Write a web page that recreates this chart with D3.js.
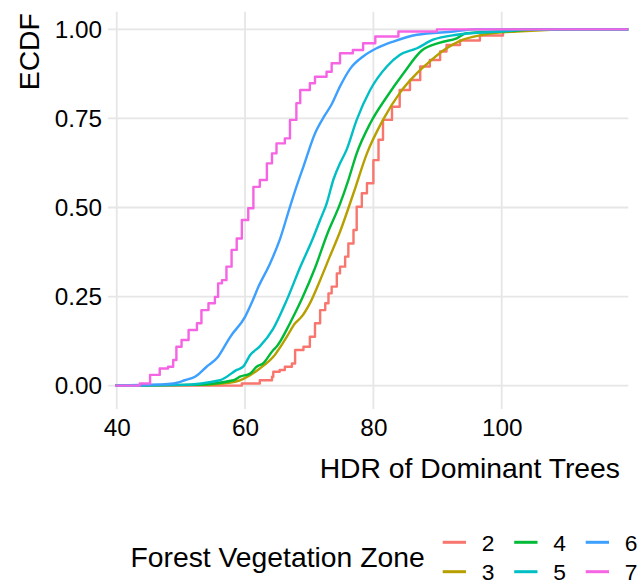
<!DOCTYPE html>
<html>
<head>
<meta charset="utf-8">
<script src="https://cdn.jsdelivr.net/npm/d3@7"></script>
<style>
  html, body { margin: 0; padding: 0; background: #fff; }
  svg { display: block; font-family: "Liberation Sans", Arial, sans-serif; }
</style>
</head>
<body>
<svg id="chart" width="637" height="588"></svg>
<script>
// ECDF of HDR by forest vegetation zone: [HDR, ECDF]
const zones = ["2", "3", "4", "5", "6", "7"];

const zone2 = [[59.5,0.006],[62.3,0.015],[64.2,0.025],[64.4,0.039],[65.4,0.044],[66.2,0.053],[67.3,0.062],
  [67.8,0.100],[69.1,0.109],[70.1,0.137],[70.9,0.175],[71.7,0.212],[72.5,0.231],[73.0,0.259],[73.5,0.278],
  [74.3,0.315],[74.8,0.334],[75.6,0.362],[76.1,0.399],[76.9,0.437],[77.4,0.502],[78.2,0.540],[79.0,0.568],
  [80.0,0.633],[80.8,0.690],[81.5,0.746],[82.9,0.783],[84.1,0.830],[85.7,0.858],[87.3,0.896],[88.8,0.914],
  [90.4,0.938],[91.4,0.956],[93.5,0.969],[96.6,0.983],[100.2,1.0]];
const zone3 = [[53.0,0.002],[57.5,0.008],[59.2,0.015],[62.3,0.048],[64.4,0.081],[66.5,0.137],[67.8,0.175],
  [68.8,0.193],[70.1,0.231],[71.7,0.296],[73.2,0.362],[74.8,0.432],[76.9,0.540],[79.0,0.652],[81.5,0.746],
  [84.1,0.821],[86.8,0.877],[88.8,0.910],[91.0,0.942],[93.5,0.968],[97.1,0.985],[102.3,0.994],[113.0,1.0]];
const zone4 = [[52.0,0.002],[58.2,0.015],[59.2,0.025],[60.8,0.034],[61.8,0.053],[62.8,0.062],[64.4,0.100],
  [64.9,0.109],[67.0,0.175],[68.9,0.245],[70.9,0.330],[72.8,0.425],[74.8,0.510],[76.1,0.577],[77.4,0.652],
  [79.5,0.736],[82.1,0.811],[84.7,0.877],[87.5,0.940],[90.4,0.963],[93.0,0.975],[94.5,0.989],[99.7,0.994],
  [107.0,1.0]];
const zone5 = [[50.0,0.002],[56.1,0.015],[58.7,0.044],[59.7,0.053],[60.8,0.086],[62.3,0.110],[64.4,0.160],
  [66.5,0.240],[68.6,0.333],[70.5,0.410],[71.7,0.465],[72.7,0.510],[73.8,0.580],[74.8,0.624],[75.8,0.661],
  [77.4,0.746],[79.5,0.830],[82.1,0.896],[84.1,0.928],[86.8,0.947],[89.3,0.971],[93.0,0.985],[99.7,0.994],
  [105.0,1.0]];
const zone6 = [[46.5,0.003],[48.8,0.006],[50.6,0.015],[52.2,0.025],[54.0,0.053],[55.8,0.081],[57.1,0.119],
  [57.7,0.137],[60.0,0.193],[61.0,0.231],[62.1,0.278],[63.9,0.343],[65.4,0.409],[67.0,0.502],[68.0,0.558],
  [69.1,0.615],[70.9,0.708],[72.3,0.755],[73.5,0.790],[74.8,0.840],[76.4,0.890],[78.4,0.924],[80.5,0.947],
  [83.1,0.966],[86.8,0.985],[92.5,0.994],[96.0,1.0]];
const zone7 = [[43.6,0.006],[45.2,0.030],[46.7,0.048],[48.0,0.053],[48.8,0.072],[49.3,0.109],[50.1,0.128],
  [51.2,0.156],[52.5,0.175],[53.2,0.212],[54.3,0.231],[55.3,0.249],[55.8,0.287],[56.4,0.296],[57.1,0.334],
  [57.9,0.381],[58.7,0.413],[59.5,0.465],[60.5,0.498],[61.3,0.558],[62.3,0.577],[63.4,0.624],[64.2,0.652],
  [64.9,0.680],[66.2,0.694],[67.0,0.746],[68.0,0.793],[68.6,0.830],[70.1,0.849],[70.9,0.867],[72.7,0.881],
  [73.5,0.905],[74.8,0.933],[76.8,0.942],[78.4,0.961],[80.3,0.980],[83.9,0.994],[89.9,1.0]];

const xTicks = [40, 60, 80, 100];
const yTicks = [0, 0.25, 0.5, 0.75, 1];
const xDomain = [38.64, 119.73];
const padStart = 39.75;

const seriesData = [zone2, zone3, zone4, zone5, zone6, zone7];
const colors = ["#F8766D", "#B79F00", "#00BA38", "#00BFC4", "#3DA0FF", "#F564E3"];
const stepped = [true, false, false, false, false, true];

const svg = d3.select("#chart");
const W = 637, H = 588;
const panel = { left: 108, right: 628.3, top: 11.7, bottom: 409 };

const x = d3.scaleLinear().domain(xDomain).range([panel.left, panel.right]);
const y = d3.scaleLinear().domain([0, 1]).range([385.6, 29.4]);

svg.append("rect").attr("width", W).attr("height", H).attr("fill", "#fff");

// grid
svg.append("g").selectAll("line").data(yTicks).join("line")
    .attr("x1", panel.left).attr("x2", panel.right)
    .attr("y1", d => y(d)).attr("y2", d => y(d))
    .attr("stroke", "#e6e6e6").attr("stroke-width", 1.8);
svg.append("g").selectAll("line").data(xTicks).join("line")
    .attr("x1", d => x(d)).attr("x2", d => x(d))
    .attr("y1", panel.top).attr("y2", panel.bottom)
    .attr("stroke", "#e6e6e6").attr("stroke-width", 1.8);

// axes (labels only)
svg.append("g").attr("transform", `translate(0,${panel.bottom})`)
    .call(d3.axisBottom(x).tickValues(xTicks).tickSize(0).tickPadding(10))
    .call(g => g.select(".domain").remove())
    .call(g => g.selectAll("text").attr("fill", "#000").attr("font-size", 24.3)
        .attr("font-family", "Liberation Sans, Arial, sans-serif"));

svg.append("g").attr("transform", `translate(${panel.left},0)`)
    .call(d3.axisLeft(y).tickValues(yTicks).tickSize(0).tickPadding(6).tickFormat(d3.format(".2f")))
    .call(g => g.select(".domain").remove())
    .call(g => g.selectAll("text").attr("fill", "#000").attr("font-size", 24.3)
        .attr("font-family", "Liberation Sans, Arial, sans-serif"));

// lines
const lineSmooth = d3.line().x(d => x(d[0])).y(d => y(d[1])).curve(d3.curveMonotoneX);
const lineStep = d3.line().x(d => x(d[0])).y(d => y(d[1])).curve(d3.curveStepAfter);

seriesData.forEach((pts, i) => {
    const full = [[padStart, 0], ...pts, [xDomain[1], 1]];
    svg.append("path").datum(full)
        .attr("fill", "none").attr("stroke", colors[i]).attr("stroke-width", 2.4)
        .attr("stroke-linejoin", "round")
        .attr("d", stepped[i] ? lineStep(full) : lineSmooth(full));
});

// axis titles
svg.append("text").attr("x", 620).attr("y", 478)
    .attr("text-anchor", "end").attr("font-size", 28.3).attr("fill", "#000")
    .text("HDR of Dominant Trees");
svg.append("text")
    .attr("transform", `translate(39,${panel.top + 1.5}) rotate(-90)`)
    .attr("text-anchor", "end").attr("font-size", 28.3).attr("fill", "#000")
    .text("ECDF");

// legend
const leg = svg.append("g");
leg.append("text").attr("x", 130.5).attr("y", 567)
    .attr("font-size", 28.3).attr("fill", "#000").text("Forest Vegetation Zone");
zones.forEach((z, i) => {
    const col = Math.floor(i / 2), row = i % 2;
    const kx = 442.7 + col * 71.5, ky = 542.3 + row * 29.4;
    leg.append("line").attr("x1", kx).attr("x2", kx + 23.3)
        .attr("y1", ky).attr("y2", ky)
        .attr("stroke", colors[i]).attr("stroke-width", 3);
    leg.append("text").attr("x", kx + 39).attr("y", ky + 8.2)
        .attr("font-size", 22.8).attr("fill", "#000").text(z);
});
</script>
</body>
</html>
